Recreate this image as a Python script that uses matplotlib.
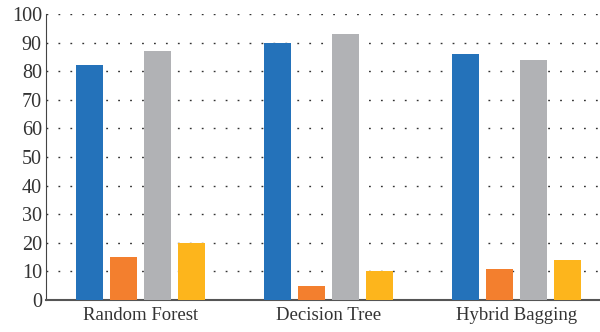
import numpy as np
import matplotlib.pyplot as plt

# model accuracy figures per classifier
models = ["Random Forest", "Decision Tree", "Hybrid Bagging"]
series_a = [82, 90, 86]
series_b = [15, 5, 11]
series_c = [87, 93, 84]
series_d = [20, 10, 14]
colors = ["#2472BA", "#F37F2E", "#B1B2B5", "#FDB51C"]

plt.rcParams["font.family"] = ["Liberation Serif", "DejaVu Serif"]

fig = plt.figure(figsize=(6.0, 3.32), dpi=100)
ax = fig.add_axes([0.0767, 0.0964, 0.9233, 0.8614])

x = np.arange(len(models))
w = 27 / 188
step = 34 / 188
for i, (vals, c) in enumerate(zip([series_a, series_b, series_c, series_d], colors)):
    ax.bar(x + (i - 1.5) * step, vals, width=w, color=c, zorder=3)

ax.set_ylim(0, 100)
ax.set_xlim(-0.5027, 2.444)
ax.set_yticks(range(0, 101, 10))
ax.set_xticks(x)
ax.set_xticklabels(models)
ax.yaxis.grid(True, color="#333333", linestyle=(0, (1.3, 7.3)), linewidth=1.0, zorder=0)
ax.tick_params(axis="both", length=0, colors="#333333")
ax.tick_params(axis="y", pad=3, labelsize=14.5)
ax.tick_params(axis="x", pad=5, labelsize=13.5)

for s in ["top", "right"]:
    ax.spines[s].set_visible(False)
ax.spines["left"].set_color("#444444")
ax.spines["left"].set_linewidth(0.8)
ax.spines["bottom"].set_color("#555555")
ax.spines["bottom"].set_linewidth(1.5)

fig.savefig("out.png", dpi=100)
